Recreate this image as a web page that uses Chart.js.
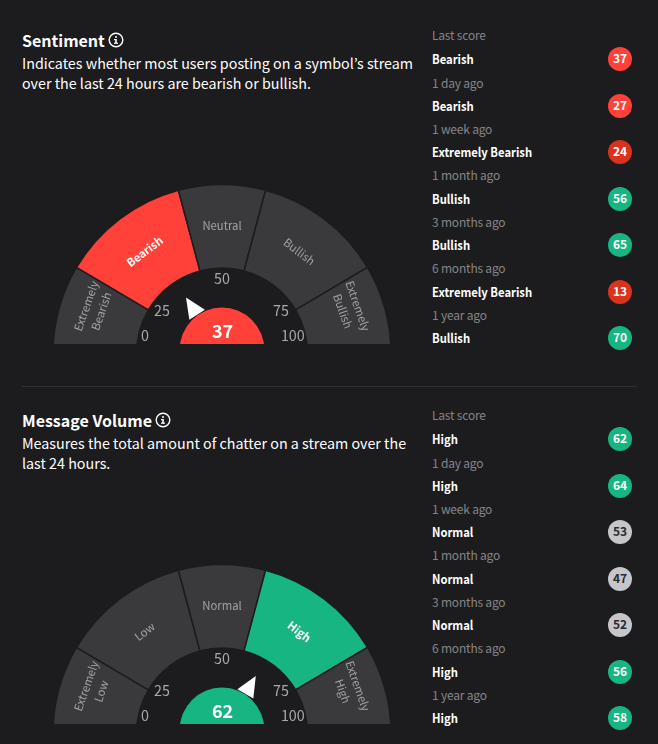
<!DOCTYPE html>
<html>
<head>
<meta charset="utf-8">
<title>Sentiment and message volume</title>
<script src="https://cdn.jsdelivr.net/npm/chart.js@4"></script>
<style>
  html, body { margin: 0; padding: 0; }
  body { width: 658px; height: 744px; overflow: hidden; position: relative; background: #1c1c1e; color: #fff; font-family: "Noto Sans CJK JP", "Noto Sans", sans-serif; }
  .title { position: absolute; left: 22px; font-size: 16px; line-height: 24px; font-weight: 700; white-space: nowrap; }
  .info { position: absolute; }
  .desc { position: absolute; left: 22px; font-size: 14.3px; line-height: 21px; color: #fff; white-space: nowrap; }
  /* the dial centre sits below the baseline, the wrapper cuts it off flat */
  .gauge { position: absolute; left: 47px; width: 350px; height: 175px; overflow: hidden; }
  .divider { position: absolute; left: 22px; width: 615px; top: 386px; height: 1px; background: #303032; }
  .row { position: absolute; left: 432px; white-space: nowrap; line-height: 20px; transform: translateY(-50%); }
  .when { font-size: 12px; letter-spacing: -0.2px; color: #85858a; }
  .name { font-size: 12.5px; font-weight: 700; color: #fff; transform: translateY(-50%) scaleX(.9); transform-origin: left center; }
  .badge { position: absolute; left: 608px; width: 24px; height: 24px; border-radius: 50%; font-size: 12px; font-weight: 700; line-height: 22px; text-align: center; transform: translateY(-50%); }
</style>
</head>
<body>
<div class="divider"></div>
<div class="gauge" style="top:169px"><canvas id="gauge-sentiment" width="350" height="200"></canvas></div>
<div class="gauge" style="top:549px"><canvas id="gauge-volume" width="350" height="200"></canvas></div>

<script>
const BAND_WIDTHS = [17, 24.7, 16.6, 24.7, 17];
const BAND_BREAKS = [0, 25, 45, 55, 75, 100];
const TICK_LABELS = [0, 25, 50, 75, 100];

const SENTIMENT_BANDS = ['Extremely Bearish', 'Bearish', 'Neutral', 'Bullish', 'Extremely Bullish'];
const SENTIMENT_SCORE = 37;
const SENTIMENT_NAMES = ['Bearish', 'Bearish', 'Extremely Bearish', 'Bullish', 'Bullish', 'Extremely Bearish', 'Bullish'];
const SENTIMENT_SCORES = [37, 27, 24, 56, 65, 13, 70];

const VOLUME_BANDS = ['Extremely Low', 'Low', 'Normal', 'High', 'Extremely High'];
const VOLUME_SCORE = 62;
const VOLUME_NAMES = ['High', 'High', 'Normal', 'Normal', 'Normal', 'High', 'High'];
const VOLUME_SCORES = [62, 64, 53, 47, 52, 56, 58];

const WHEN_LABELS = ['1 day ago', '1 week ago', '1 month ago', '3 months ago', '6 months ago', '1 year ago'];

const FONT = '"Noto Sans CJK JP", "Noto Sans", sans-serif';
const RING_GRAY = '#3a3a3c';
const BG = '#1c1c1e';
const BAND_COLORS = ['#d9321d', '#ff4139', '#c6c6ca', '#17b582', '#17b582'];

function bandIndex(score) {
  for (let i = 0; i < BAND_WIDTHS.length; i++) {
    if (score < BAND_BREAKS[i + 1]) return i;
  }
  return BAND_WIDTHS.length - 1;
}

function scoreColor(score) {
  return BAND_COLORS[bandIndex(score)];
}

// score -> canvas angle, piecewise because bands are not equal on the dial
function scoreAngle(score) {
  const total = BAND_WIDTHS.reduce((a, b) => a + b, 0);
  const i = bandIndex(score);
  let before = 0;
  for (let k = 0; k < i; k++) before += BAND_WIDTHS[k];
  const frac = (score - BAND_BREAKS[i]) / (BAND_BREAKS[i + 1] - BAND_BREAKS[i]);
  return Math.PI + Math.PI * (before + frac * BAND_WIDTHS[i]) / total;
}

const gaugeOverlay = {
  id: 'gaugeOverlay',
  afterDatasetsDraw(chart, args, opts) {
    const ctx = chart.ctx;
    const arcs = chart.getDatasetMeta(0).data;
    const cx = arcs[0].x, cy = arcs[0].y;
    const score = opts.score;
    const active = bandIndex(score);

    ctx.save();
    ctx.textAlign = 'center';
    ctx.textBaseline = 'middle';

    // band names, turned along the ring. The outer two are nudged up off the cut edge
    arcs.forEach((arc, i) => {
      let mid = (arc.startAngle + arc.endAngle) / 2;
      if (i === 0) mid += 0.07;
      if (i === 4) mid -= 0.07;
      const words = chart.data.labels[i].split(' ');
      const r = words.length > 1 ? 136 : 128;
      const x = cx + Math.cos(mid) * r, y = cy + Math.sin(mid) * r;
      ctx.save();
      ctx.translate(x, y);
      ctx.rotate(mid + Math.PI / 2);
      ctx.fillStyle = i === active ? '#fff' : '#a2a2a4';
      ctx.font = (i === active ? '700 ' : '400 ') + '11.3px ' + FONT;
      words.forEach((w, n) => ctx.fillText(w, 0, (n - (words.length - 1) / 2) * 16));
      ctx.restore();
    });

    // dial numbers
    const tickRadius = { 0: 79, 25: 74, 50: 75, 75: 73, 100: 73 };
    const tickAngle = { 0: 193, 25: 215.7, 50: 270, 75: 324, 100: 346 };
    ctx.font = '400 14.3px ' + FONT;
    ctx.fillStyle = '#a9a9ad';
    TICK_LABELS.forEach(t => {
      const a = tickAngle[t] * Math.PI / 180;
      ctx.fillText(String(t), cx + Math.cos(a) * tickRadius[t], cy + Math.sin(a) * tickRadius[t]);
    });

    // needle, base sits under the centre disc
    const a = scoreAngle(score);
    ctx.fillStyle = '#fff';
    ctx.beginPath();
    ctx.moveTo(cx + Math.cos(a) * 66.6, cy + Math.sin(a) * 66.6);
    ctx.lineTo(cx + Math.cos(a) * 46 - Math.sin(a) * 9.25, cy + Math.sin(a) * 46 + Math.cos(a) * 9.25);
    ctx.lineTo(cx + Math.cos(a) * 46 + Math.sin(a) * 9.25, cy + Math.sin(a) * 46 - Math.cos(a) * 9.25);
    ctx.closePath();
    ctx.fill();

    // centre disc with the score
    ctx.fillStyle = scoreColor(score);
    ctx.beginPath();
    ctx.arc(cx, cy - 3.5, 42.4, 0, 2 * Math.PI);
    ctx.fill();
    ctx.fillStyle = '#fff';
    ctx.font = '700 18px ' + FONT;
    ctx.fillText(String(score), cx + 0.5, cy - 22.8);
    ctx.restore();
  }
};

function makeGauge(id, labels, score, activeColor) {
  const active = bandIndex(score);
  return new Chart(document.getElementById(id).getContext('2d'), {
    type: 'doughnut',
    data: {
      labels: labels,
      datasets: [{
        data: BAND_WIDTHS,
        backgroundColor: BAND_WIDTHS.map((w, i) => i === active ? activeColor : RING_GRAY),
        borderColor: BG,
        borderWidth: 1.5,
        hoverOffset: 0
      }]
    },
    options: {
      responsive: false,
      animation: false,
      rotation: -90,
      circumference: 180,
      radius: 169,
      cutout: '50.6%',
      events: [],
      plugins: { legend: { display: false }, tooltip: { enabled: false }, gaugeOverlay: { score: score } }
    },
    plugins: [gaugeOverlay]
  });
}

function addEl(cls, top, text, style) {
  const el = document.createElement('div');
  el.className = cls;
  el.style.top = top + 'px';
  el.textContent = text;
  if (style) Object.assign(el.style, style);
  document.body.appendChild(el);
  return el;
}

function addHeader(top, title, iconLeft, lines) {
  addEl('title', top, title);
  const icon = document.createElement('div');
  icon.className = 'info';
  icon.style.left = iconLeft + 'px';
  icon.style.top = (top + 4.5) + 'px';
  icon.innerHTML = '<svg width="16" height="16" viewBox="0 0 16 16" style="display:block"><circle cx="8" cy="8" r="6.8" fill="none" stroke="#fff" stroke-width="1.4"/><rect x="7.2" y="7" width="1.6" height="4.2" fill="#fff"/><rect x="6" y="7" width="2" height="1.2" fill="#fff"/><rect x="6" y="10.6" width="4" height="1.2" fill="#fff"/><circle cx="8" cy="4.9" r="1" fill="#fff"/></svg>';
  document.body.appendChild(icon);
  lines.forEach((line, i) => addEl('desc', top + 24.5 + i * 20, line));
}

// right hand column: "Last score" then name / badge / age rows
function addHistory(top, names, scores) {
  addEl('row when', top, 'Last score');
  names.forEach((name, i) => {
    const y = top + 24.3 + i * 46.45;
    addEl('row name', y, name);
    const band = bandIndex(scores[i]);
    addEl('badge', y, String(scores[i]), { background: BAND_COLORS[band], color: band === 2 ? '#2a2a2c' : '#fff' });
    if (i < WHEN_LABELS.length) addEl('row when', y + 23.2, WHEN_LABELS[i]);
  });
}

addHeader(27.5, 'Sentiment', 108, ['Indicates whether most users posting on a symbol\u2019s stream', 'over the last 24 hours are bearish or bullish.']);
addHistory(35, SENTIMENT_NAMES, SENTIMENT_SCORES);
addHeader(407.5, 'Message Volume', 155, ['Measures the total amount of chatter on a stream over the', 'last 24 hours.']);
addHistory(415, VOLUME_NAMES, VOLUME_SCORES);

makeGauge('gauge-sentiment', SENTIMENT_BANDS, SENTIMENT_SCORE, BAND_COLORS[1]);
makeGauge('gauge-volume', VOLUME_BANDS, VOLUME_SCORE, BAND_COLORS[3]);
</script>
</body>
</html>
